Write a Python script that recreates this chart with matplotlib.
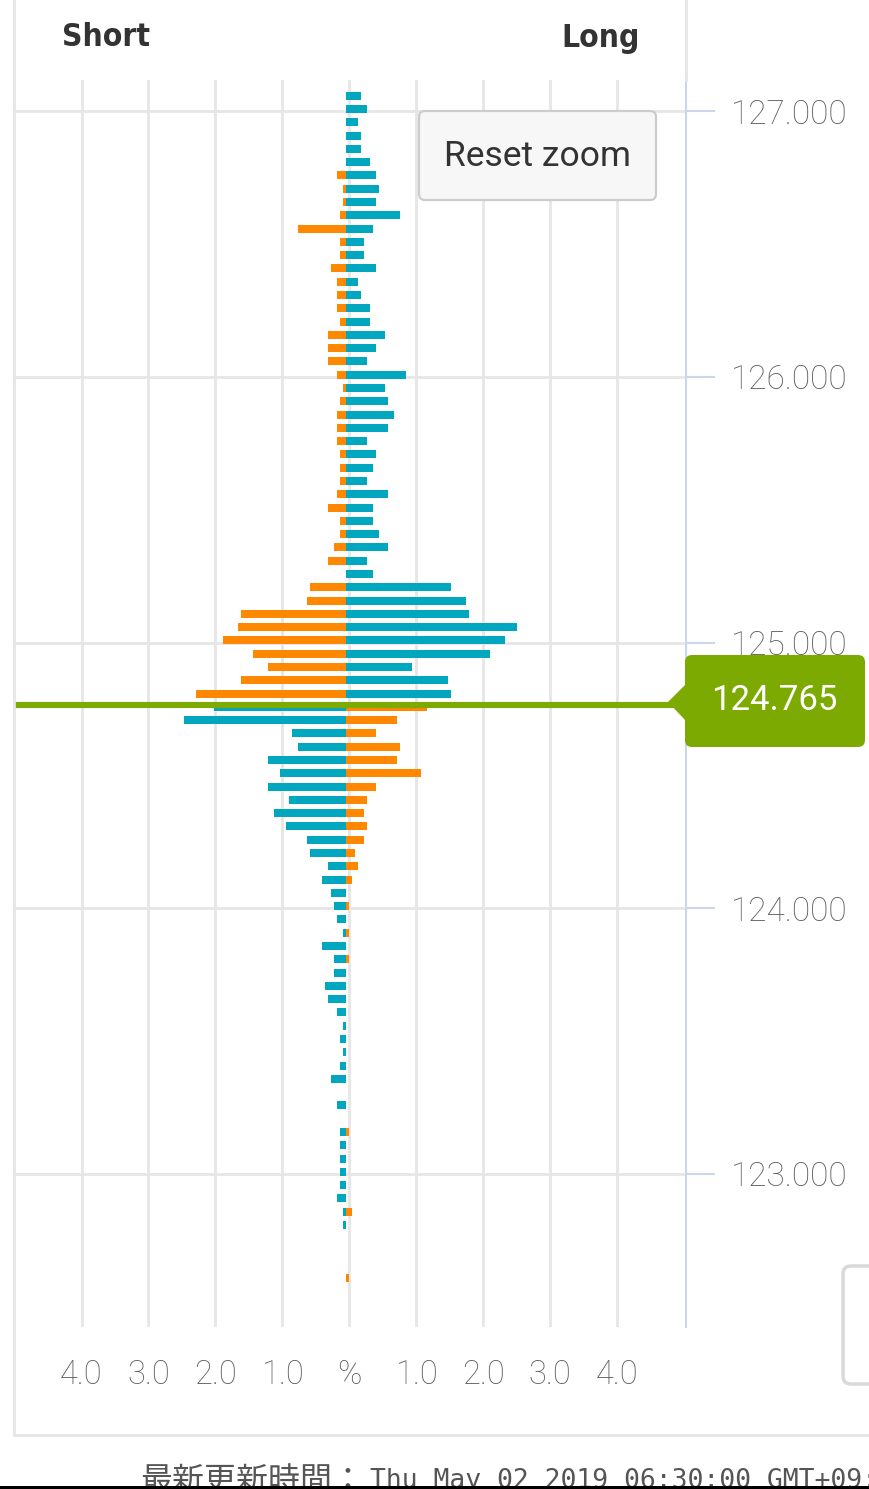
import numpy as np
import matplotlib.pyplot as plt
from matplotlib import font_manager as fm
from matplotlib.patches import FancyBboxPatch, Polygon, Rectangle
from matplotlib.lines import Line2D

W, H = 869, 1489

# price levels (0.05 step) from top to bottom
prices = np.round(np.arange(127.05, 122.599, -0.05), 2)

# % of positions at each level (right side = long, left side = short)
long_pct = [
    0.22, 0.31, 0.18, 0.22, 0.22, 0.36, 0.45, 0.49, 0.45, 0.81,
    0.40, 0.27, 0.27, 0.45, 0.18, 0.22, 0.36, 0.36, 0.58, 0.45,
    0.31, 0.90, 0.58, 0.63, 0.72, 0.63, 0.31, 0.45, 0.40, 0.31,
    0.63, 0.40, 0.40, 0.49, 0.63, 0.31, 0.40, 1.57, 1.79, 1.84,
    2.56, 2.38, 2.15, 0.99, 1.52, 1.57, 1.21, 0.76, 0.45, 0.81,
    0.76, 1.12, 0.45, 0.31, 0.27, 0.31, 0.27, 0.13, 0.18, 0.09,
    0.00, 0.04, 0.00, 0.04, 0.00, 0.04, 0.00, 0.00, 0.00, 0.00,
    0.00, 0.00, 0.00, 0.00, 0.00, 0.00, 0.00, 0.00, 0.04, 0.00,
    0.00, 0.00, 0.00, 0.00, 0.09, 0.00, 0.00, 0.00, 0.00, 0.04,
]
short_pct = [
    0.00, 0.00, 0.00, 0.00, 0.00, 0.00, 0.13, 0.04, 0.04, 0.09,
    0.72, 0.09, 0.09, 0.22, 0.13, 0.13, 0.13, 0.09, 0.27, 0.27,
    0.27, 0.13, 0.04, 0.09, 0.13, 0.13, 0.13, 0.09, 0.09, 0.09,
    0.13, 0.27, 0.09, 0.09, 0.18, 0.27, 0.00, 0.54, 0.58, 1.57,
    1.61, 1.84, 1.39, 1.17, 1.57, 2.24, 1.97, 2.42, 0.81, 0.72,
    1.17, 0.99, 1.17, 0.85, 1.08, 0.90, 0.58, 0.54, 0.27, 0.36,
    0.22, 0.18, 0.13, 0.04, 0.36, 0.18, 0.18, 0.31, 0.27, 0.13,
    0.04, 0.09, 0.04, 0.09, 0.22, 0.00, 0.13, 0.00, 0.09, 0.09,
    0.09, 0.09, 0.09, 0.13, 0.04, 0.04, 0.00, 0.00, 0.00, 0.00,
]
current_price = 124.765
price_ticks = [123.0, 124.0, 125.0, 126.0, 127.0]
pct_ticks = [-4, -3, -2, -1, 0, 1, 2, 3, 4]
pct_labels = ['4.0', '3.0', '2.0', '1.0', '%', '1.0', '2.0', '3.0', '4.0']

teal = '#01a6bf'
orange = '#ff8800'
green = '#7caa00'
grid_c = '#e6e6e6'
axis_c = '#ccd6eb'
label_c = '#5c5c5c'

plt.rcParams['font.family'] = ['Roboto', 'DejaVu Sans']

fig = plt.figure(figsize=(W / 100, H / 100), dpi=100)
fig.patch.set_facecolor('white')


def fx(x):
    return x / W


def fy(y):
    return 1 - y / H


def inch(x, y):
    return (x / 100, (H - y) / 100)


ax = fig.add_axes([fx(15), fy(1327), (686 - 15) / W, (1327 - 80) / H])
ax.set_xlim(-4.994, 5.031)
ax.set_ylim(122.424, 127.117)

base = -0.048
above = prices > current_price
right_cols = [teal if a else orange for a in above]
left_cols = [orange if a else teal for a in above]
ax.barh(prices + 0.008, long_pct, left=base, height=0.03, color=right_cols, zorder=2)
ax.barh(prices + 0.008, -np.array(short_pct), left=base, height=0.03, color=left_cols, zorder=2)

ax.axhline(current_price, color=green, lw=4.4, zorder=4)

ax.set_axisbelow(True)
ax.set_xticks(pct_ticks)
ax.set_xticklabels(pct_labels)
ax.set_yticks(price_ticks)
ax.set_yticklabels(['%.3f' % p for p in price_ticks])
ax.grid(True, color=grid_c, lw=2)
ax.yaxis.tick_right()
ax.tick_params(axis='x', length=0, pad=23, labelsize=23.5, labelcolor=label_c)
ax.tick_params(axis='y', length=21, width=1.5, color=axis_c, pad=11,
               labelsize=24, labelcolor=label_c)
for s in ['top', 'left', 'bottom']:
    ax.spines[s].set_visible(False)
ax.spines['right'].set_color(axis_c)
ax.spines['right'].set_linewidth(1.5)
for t in ax.get_xticklabels() + ax.get_yticklabels():
    t.set_fontweight('light')

# panel borders
fig.add_artist(Line2D([fx(14), fx(14)], [fy(0), fy(1435)], color=grid_c, lw=2))
fig.add_artist(Line2D([fx(14), fx(869)], [fy(1435), fy(1435)], color=grid_c, lw=2))
fig.add_artist(Line2D([fx(686), fx(686)], [fy(0), fy(80)], color=grid_c, lw=2))

# headers: prefer a narrow / condensed bold face
hdr_file = None
for f in fm.fontManager.ttflist:
    narrow = 'Narrow' in f.name or 'Condensed' in f.name or f.stretch in ('condensed', 'semi-condensed')
    if narrow and str(f.weight) in ('bold', '700') and 'Mono' not in f.name and 'Serif' not in f.name:
        hdr_file = f.fname
        break
if hdr_file:
    hdr_prop = fm.FontProperties(fname=hdr_file)
else:
    hdr_prop = fm.FontProperties(family='Roboto', weight='bold')

renderer = fig.canvas.get_renderer()
t_short = fig.text(fx(62), fy(38), 'Short', fontproperties=hdr_prop, fontsize=28,
                   color='#333333', ha='left', va='center')
t_long = fig.text(fx(640), fy(38), 'Long', fontproperties=hdr_prop, fontsize=28,
                  color='#333333', ha='right', va='center')
# one size for both, sized so that "Short" spans its width in the screenshot
hdr_size = min(28 * 88 / t_short.get_window_extent(renderer).width, 30)
t_short.set_fontsize(hdr_size)
t_long.set_fontsize(hdr_size)

# reset zoom button
x0, y0 = inch(419, 200)
fig.add_artist(FancyBboxPatch((x0, y0), 2.37, 0.89, boxstyle='round,pad=0,rounding_size=0.06',
                              transform=fig.dpi_scale_trans, facecolor='#f7f7f7',
                              edgecolor='#cccccc', lw=1.6, zorder=5))
fig.text(fx(537), fy(157), 'Reset zoom', fontsize=25.5, color='#333333',
         ha='center', va='center', zorder=6)

# current price label
x0, y0 = inch(685, 747)
fig.add_artist(FancyBboxPatch((x0, y0), 1.80, 0.92, boxstyle='round,pad=0,rounding_size=0.07',
                              transform=fig.dpi_scale_trans, facecolor=green,
                              edgecolor='none', zorder=5))
fig.add_artist(Polygon([inch(686, 684), inch(668, 702), inch(686, 721)], closed=True,
                       transform=fig.dpi_scale_trans, facecolor=green, edgecolor='none', zorder=5))
fig.text(fx(774), fy(700), '%.3f' % current_price, fontsize=25, color='white',
         ha='center', va='center', zorder=6)

# partial box at the right edge
x0, y0 = inch(843, 1384)
fig.add_artist(FancyBboxPatch((x0, y0), 0.6, 1.18, boxstyle='round,pad=0,rounding_size=0.08',
                              transform=fig.dpi_scale_trans, facecolor='white',
                              edgecolor='#d9d9d9', lw=2.5, zorder=5))

# footer (cut off by the bottom edge, as in the screenshot)
fig.text(fx(140), fy(1481), '最新更新時間：', family=['Noto Sans CJK JP', 'DejaVu Sans'],
         fontsize=23, color='#555555', ha='left', va='center')
fig.text(fx(370), fy(1481), 'Thu May 02 2019 06:30:00 GMT+09:00', family='DejaVu Sans Mono',
         fontsize=19, color='#555555', ha='left', va='center')
x0, y0 = inch(0, 1489)
fig.add_artist(Rectangle((x0, y0), W / 100, 0.03, transform=fig.dpi_scale_trans,
                         facecolor='black', edgecolor='none', zorder=10))

fig.savefig('out.png', dpi=100)
